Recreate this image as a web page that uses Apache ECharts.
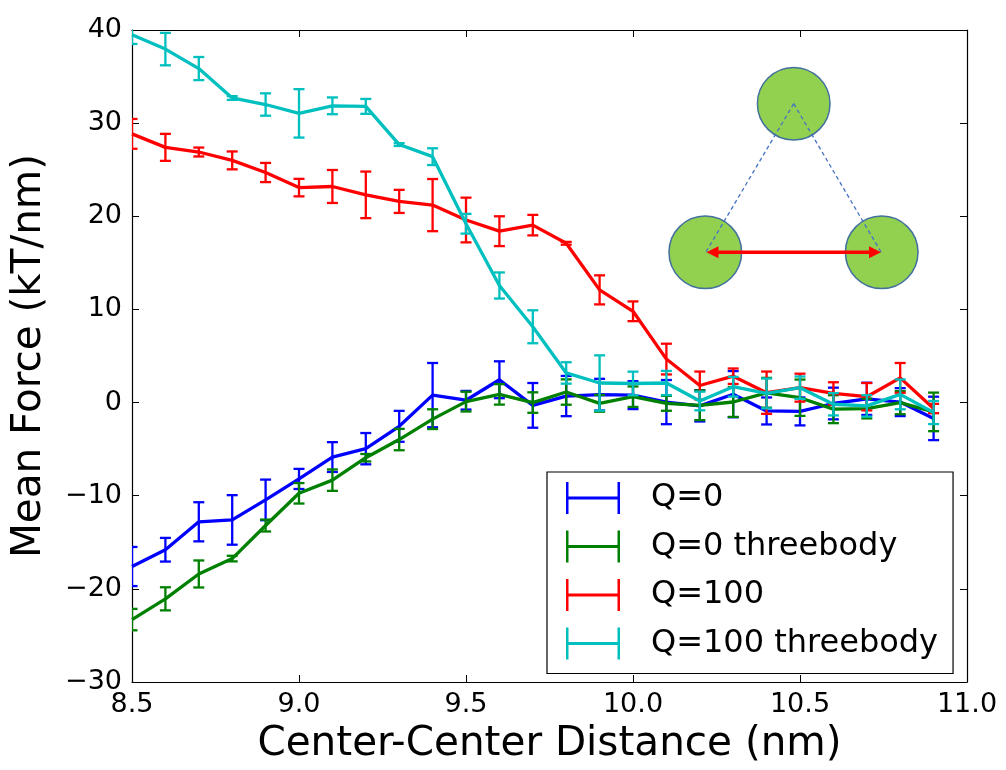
<!DOCTYPE html>
<html>
<head>
<meta charset="utf-8">
<script src="https://cdn.jsdelivr.net/npm/echarts@6/dist/echarts.min.js"></script>
<style>html,body{margin:0;padding:0;background:#fff;}#chart{width:1006px;height:770px;}</style>
</head>
<body>
<div id="chart"></div>
<script>
// ---- data ----
var distances = [8.5, 8.6, 8.7, 8.8, 8.9, 9.0, 9.1, 9.2, 9.3, 9.4, 9.5, 9.6, 9.7, 9.8, 9.9, 10.0, 10.1, 10.2, 10.3, 10.4, 10.5, 10.6, 10.7, 10.8, 10.9];

var q0Mean = [-17.6, -15.8, -12.8, -12.6, -10.45, -8.2, -5.85, -4.95, -2.55, 0.8, 0.25, 2.45, -0.3, 0.7, 0.85, 0.8, 0.05, -0.35, 0.9, -0.9, -0.95, -0.1, 0.4, 0.05, -1.7];
var q0Err = [2.1, 1.27, 2.1, 2.66, 2.18, 1.08, 1.6, 1.68, 1.66, 3.45, 1.0, 1.98, 2.4, 2.16, 1.7, 1.5, 2.37, 1.68, 2.48, 1.45, 1.5, 1.7, 1.73, 1.5, 2.33];

var q0ThreeMean = [-23.3, -21.07, -18.4, -16.75, -13.2, -9.74, -8.33, -5.92, -3.97, -1.78, 0.1, 0.88, 0.0, 1.13, -0.08, 0.63, -0.08, -0.29, 0.06, 1.05, 0.52, -0.71, -0.64, -0.01, -1.0];
var q0ThreeErr = [1.15, 1.24, 1.45, 0.3, 0.64, 1.1, 1.15, 0.4, 1.15, 1.06, 1.06, 1.1, 1.1, 1.36, 0.9, 1.1, 0.8, 1.6, 1.6, 1.6, 1.95, 1.5, 1.06, 1.24, 2.07];

var q100Mean = [28.85, 27.4, 26.9, 26.0, 24.7, 23.08, 23.2, 22.3, 21.6, 21.2, 19.6, 18.4, 19.05, 17.1, 12.1, 9.8, 4.67, 1.83, 2.83, 1.06, 1.6, 0.98, 0.63, 2.65, -0.64];
var q100Err = [1.6, 1.45, 0.48, 0.96, 1.03, 0.94, 1.77, 2.5, 1.24, 2.8, 2.4, 1.6, 1.1, 0.15, 1.56, 1.06, 1.65, 1.5, 0.83, 2.27, 1.5, 1.2, 1.47, 1.6, 0.5];

var q100ThreeMean = [39.5, 37.95, 35.86, 32.7, 32.0, 31.05, 31.86, 31.8, 27.7, 26.4, 19.2, 12.57, 8.14, 3.18, 2.1, 2.05, 2.1, 0.17, 1.7, 0.98, 1.6, -0.18, -0.36, 0.88, -1.07];
var q100ThreeErr = [1.0, 1.74, 1.24, 0.2, 1.2, 2.6, 0.9, 0.8, 0.15, 0.9, 1.06, 1.4, 1.77, 1.15, 2.97, 1.27, 1.3, 1.0, 1.06, 1.6, 1.2, 1.2, 1.15, 1.6, 1.24];

var seriesNames = ['Q=0', 'Q=0 threebody', 'Q=100', 'Q=100 threebody'];
var seriesColors = ['#0000ff', '#008000', '#ff0000', '#00bfbf'];
var xTicks = [8.5, 9.0, 9.5, 10.0, 10.5, 11.0];
var yTicks = [-30, -20, -10, 0, 10, 20, 30, 40];

// ---- build ----
var means = [q0Mean, q0ThreeMean, q100Mean, q100ThreeMean];
var errs = [q0Err, q0ThreeErr, q100Err, q100ThreeErr];
var FONT = 'DejaVu Sans';

var series = [];
for (var s = 0; s < 4; s++) {
  var lineData = distances.map(function (x, i) { return [x, means[s][i]]; });
  var errData = distances.map(function (x, i) { return [x, means[s][i] - errs[s][i], means[s][i] + errs[s][i]]; });
  series.push({
    name: seriesNames[s] + ' err',
    type: 'custom',
    xAxisIndex: 0, yAxisIndex: 0,
    clip: true,
    silent: true,
    z: 2 + s * 2,
    data: errData,
    encode: { x: 0, y: [1, 2] },
    renderItem: (function (color) {
      return function (params, api) {
        var x = api.value(0);
        var lo = api.coord([x, api.value(1)]);
        var hi = api.coord([x, api.value(2)]);
        var hw = 5.5;
        var st = { stroke: color, lineWidth: 2.3, fill: null };
        return {
          type: 'group',
          children: [
            { type: 'line', shape: { x1: lo[0], y1: lo[1], x2: hi[0], y2: hi[1] }, style: st },
            { type: 'line', shape: { x1: lo[0] - hw, y1: lo[1], x2: lo[0] + hw, y2: lo[1] }, style: st },
            { type: 'line', shape: { x1: hi[0] - hw, y1: hi[1], x2: hi[0] + hw, y2: hi[1] }, style: st }
          ]
        };
      };
    })(seriesColors[s])
  });
  series.push({
    name: seriesNames[s],
    type: 'line',
    xAxisIndex: 0, yAxisIndex: 0,
    data: lineData,
    showSymbol: false,
    symbol: 'none',
    clip: true,
    z: 3 + s * 2,
    color: seriesColors[s],
    itemStyle: { color: seriesColors[s] },
    lineStyle: { color: seriesColors[s], width: 3.3 },
    animation: false
  });
}

function fmtY(v) { return v < 0 ? '\u2212' + Math.abs(v) : String(v); }

var axisCommon = {
  axisLine: { show: true, onZero: false, lineStyle: { color: '#000', width: 1.2 } },
  axisTick: { show: true, inside: true, length: 7, lineStyle: { color: '#000', width: 1 } },
  splitLine: { show: false }
};

var option = {
  animation: false,
  backgroundColor: '#ffffff',
  grid: { left: 132, right: 39, top: 30, bottom: 81, containLabel: false },
  xAxis: [
    Object.assign({
      type: 'value', position: 'bottom', min: xTicks[0], max: xTicks[xTicks.length - 1], interval: 0.5,
      name: 'Center-Center Distance (nm)', nameLocation: 'middle', nameGap: 42,
      nameTextStyle: { fontFamily: FONT, fontSize: 40.5, color: '#000' },
      axisLabel: { fontFamily: FONT, fontSize: 27, color: '#000', margin: 9, formatter: function (v) { return v.toFixed(1); } }
    }, axisCommon),
    Object.assign({
      type: 'value', position: 'top', min: xTicks[0], max: xTicks[xTicks.length - 1], interval: 0.5,
      axisLabel: { show: false }
    }, axisCommon)
  ],
  yAxis: [
    Object.assign({
      type: 'value', position: 'left', min: yTicks[0], max: yTicks[yTicks.length - 1], interval: 10,
      name: 'Mean Force (kT/nm)', nameLocation: 'middle', nameGap: 82,
      nameTextStyle: { fontFamily: FONT, fontSize: 40.5, color: '#000' },
      axisLabel: { fontFamily: FONT, fontSize: 27, color: '#000', margin: 10, formatter: fmtY }
    }, axisCommon),
    Object.assign({
      type: 'value', position: 'right', min: yTicks[0], max: yTicks[yTicks.length - 1], interval: 10,
      axisLabel: { show: false }
    }, axisCommon)
  ],
  legend: {
    orient: 'vertical',
    left: 547, top: 472,
    padding: [10, 15, 14, 19],
    itemGap: 16.5,
    itemWidth: 54,
    itemHeight: 32,
    borderColor: '#000',
    borderWidth: 1.2,
    backgroundColor: '#fff',
    selectedMode: false,
    icon: 'path://M0,0H2.5V32H0Z M51.5,0H54V32H51.5Z M0,14.5H54V17.5H0Z',
    textStyle: { fontFamily: FONT, fontSize: 32, color: '#000', padding: [0, 0, 0, 26] },
    data: seriesNames
  },
  graphic: [
    { type: 'line', z: 10, shape: { x1: 793.7, y1: 103.7, x2: 706, y2: 252 }, style: { stroke: '#4472c4', lineWidth: 1.3, lineDash: [4, 3] } },
    { type: 'line', z: 10, shape: { x1: 793.7, y1: 103.7, x2: 881, y2: 252 }, style: { stroke: '#4472c4', lineWidth: 1.3, lineDash: [4, 3] } },
    { type: 'circle', z: 9, shape: { cx: 793.7, cy: 103.7, r: 36.3 }, style: { fill: '#92d050', stroke: '#41719c', lineWidth: 1.5 } },
    { type: 'circle', z: 9, shape: { cx: 705.3, cy: 252.3, r: 36.3 }, style: { fill: '#92d050', stroke: '#41719c', lineWidth: 1.5 } },
    { type: 'circle', z: 9, shape: { cx: 881.7, cy: 252.3, r: 36.3 }, style: { fill: '#92d050', stroke: '#41719c', lineWidth: 1.5 } },
    { type: 'line', z: 11, shape: { x1: 716, y1: 252.3, x2: 871, y2: 252.3 }, style: { stroke: '#ff0000', lineWidth: 3.4 } },
    { type: 'polygon', z: 11, shape: { points: [[706.5, 252.3], [718.5, 246.3], [718.5, 258.3]] }, style: { fill: '#ff0000' } },
    { type: 'polygon', z: 11, shape: { points: [[881, 252.3], [869, 246.3], [869, 258.3]] }, style: { fill: '#ff0000' } }
  ],
  series: series
};

var chart = echarts.init(document.getElementById('chart'), null, { renderer: 'canvas' });
chart.setOption(option);
</script>
</body>
</html>
